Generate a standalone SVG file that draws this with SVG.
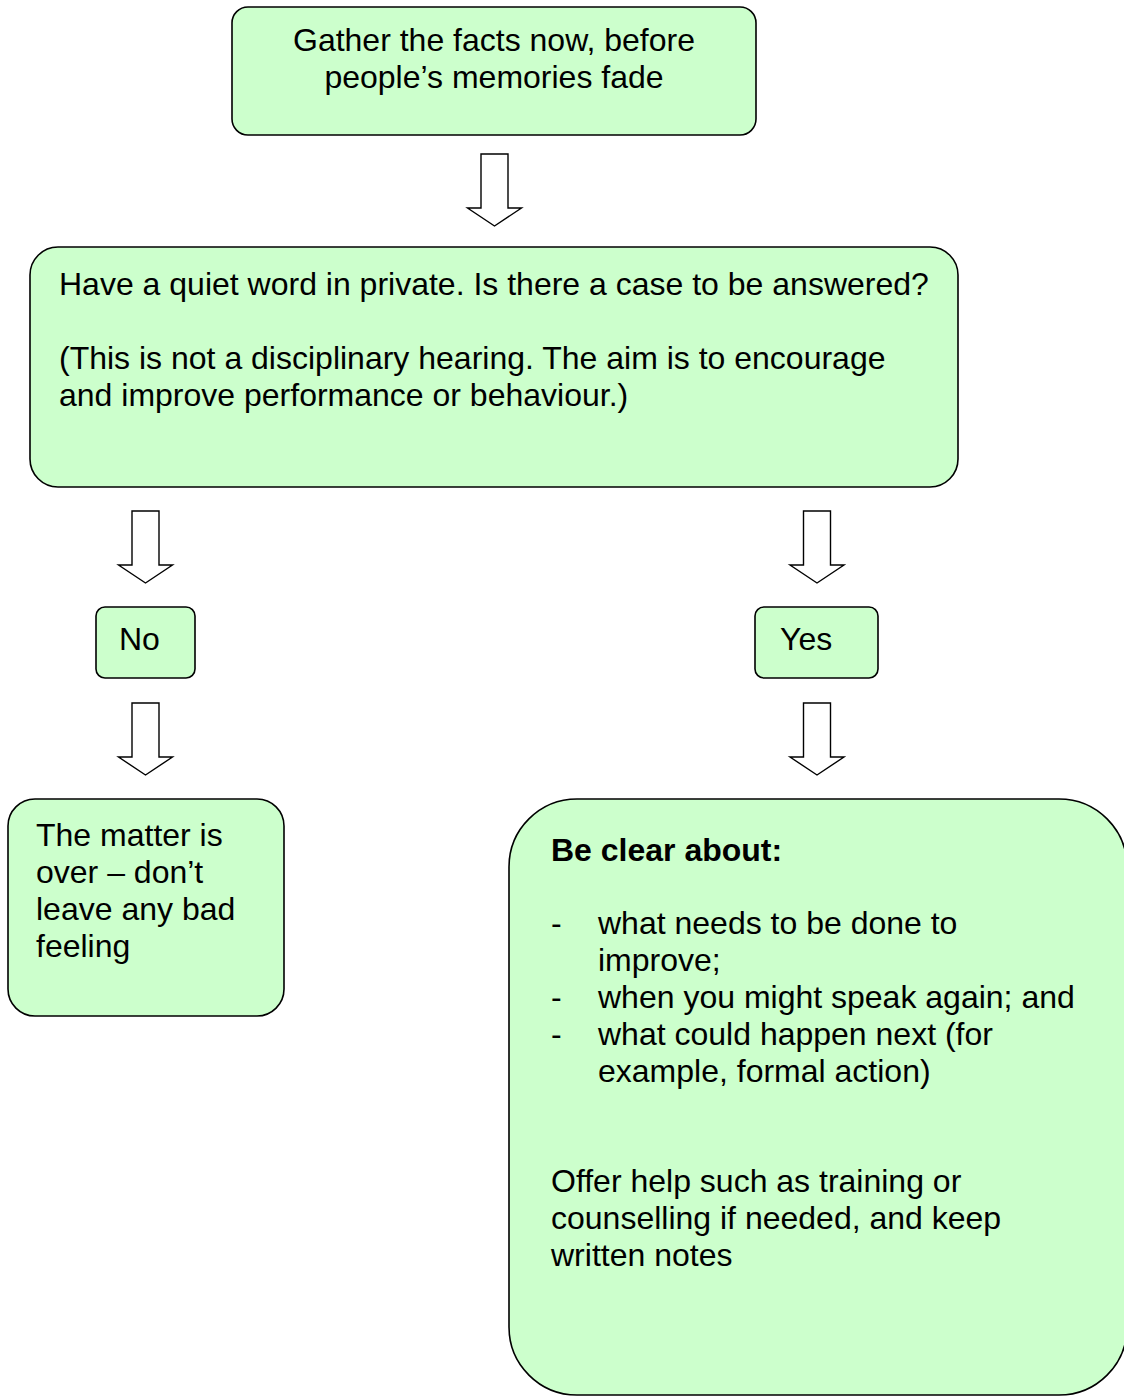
<svg xmlns="http://www.w3.org/2000/svg" width="1124" height="1396" viewBox="0 0 1124 1396">
<style>
.box{fill:#CCFFCC;stroke:#000;stroke-width:1.6}
.arr{fill:#fff;stroke:#000;stroke-width:1.4;stroke-linejoin:miter}
text{font-family:"Liberation Sans",Arial,sans-serif;font-size:32px;fill:#000}
.b{font-weight:bold}
.c{text-anchor:middle}
</style>
<rect width="1124" height="1396" fill="#fff"/>
<g id="connectors">
<path class="arr" d="M481 154 H508 V208 H521.5 L494.5 226 L467.5 208 H481 Z"/>
<path class="arr" d="M132 511 H159 V565 H172.5 L145.5 583 L118.5 565 H132 Z"/>
<path class="arr" d="M132 703 H159 V757 H172.5 L145.5 775 L118.5 757 H132 Z"/>
<path class="arr" d="M803.5 511 H830.5 V565 H844 L817 583 L790 565 H803.5 Z"/>
<path class="arr" d="M803.5 703 H830.5 V757 H844 L817 775 L790 757 H803.5 Z"/>
</g>
<g id="node-gather">
<rect class="box" x="232" y="7" width="524" height="128" rx="16"/>
<text class="c" x="494" y="51">Gather the facts now, before</text>
<text class="c" x="494" y="88">people’s memories fade</text>
</g>
<g id="node-quiet-word">
<rect class="box" x="30" y="247" width="928" height="240" rx="28"/>
<text x="59" y="295">Have a quiet word in private. Is there a case to be answered?</text>
<text x="59" y="369">(This is not a disciplinary hearing. The aim is to encourage</text>
<text x="59" y="406">and improve performance or behaviour.)</text>
</g>
<g id="node-no">
<rect class="box" x="96" y="607" width="99" height="71" rx="9"/>
<text x="119" y="650">No</text>
</g>
<g id="node-yes">
<rect class="box" x="755" y="607" width="123" height="71" rx="9"/>
<text x="780" y="650">Yes</text>
</g>
<g id="node-matter-over">
<rect class="box" x="8" y="799" width="276" height="217" rx="27"/>
<text x="36" y="846">The matter is</text>
<text x="36" y="883">over – don’t</text>
<text x="36" y="920">leave any bad</text>
<text x="36" y="957">feeling</text>
</g>
<g id="node-be-clear">
<rect class="box" x="509" y="799" width="618" height="596" rx="68"/>
<text class="b" x="551" y="861">Be clear about:</text>
<text x="551" y="934">-</text>
<text x="598" y="934">what needs to be done to</text>
<text x="598" y="971">improve;</text>
<text x="551" y="1008">-</text>
<text x="598" y="1008">when you might speak again; and</text>
<text x="551" y="1045">-</text>
<text x="598" y="1045">what could happen next (for</text>
<text x="598" y="1082">example, formal action)</text>
<text x="551" y="1192">Offer help such as training or</text>
<text x="551" y="1229">counselling if needed, and keep</text>
<text x="551" y="1266">written notes</text>
</g>
</svg>
